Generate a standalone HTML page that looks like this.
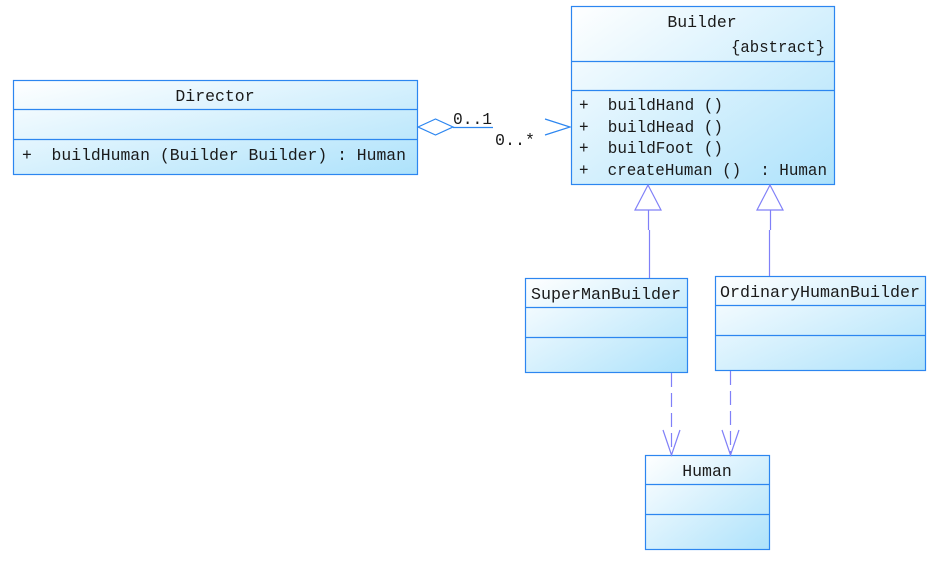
<!DOCTYPE html>
<html><head><meta charset="utf-8"><style>
html,body{margin:0;padding:0;background:#fff;}
svg{display:block}
text{font-family:"Liberation Mono","Noto Sans CJK SC",monospace;font-size:16.5px;fill:#1a1a1a;white-space:pre}
</style></head><body>
<svg width="935" height="564" viewBox="0 0 935 564" xmlns="http://www.w3.org/2000/svg" xml:space="preserve">
<defs>
<linearGradient id="g" x1="0" y1="0" x2="1" y2="1">
<stop offset="0" stop-color="#ffffff"/><stop offset="1" stop-color="#ade2fb"/>
</linearGradient>
</defs>
<g stroke="#2c86f0" stroke-width="1.2">
<rect x="13.5" y="80.5" width="404" height="94" fill="url(#g)"/>
<line x1="13.5" y1="109.5" x2="417.5" y2="109.5"/><line x1="13.5" y1="139.5" x2="417.5" y2="139.5"/>
<rect x="571.5" y="6.5" width="263" height="178" fill="url(#g)"/>
<line x1="571.5" y1="61.5" x2="834.5" y2="61.5"/><line x1="571.5" y1="90.5" x2="834.5" y2="90.5"/>
<rect x="525.5" y="278.5" width="162" height="94" fill="url(#g)"/>
<line x1="525.5" y1="307.5" x2="687.5" y2="307.5"/><line x1="525.5" y1="337.5" x2="687.5" y2="337.5"/>
<rect x="715.5" y="276.5" width="210" height="94" fill="url(#g)"/>
<line x1="715.5" y1="305.5" x2="925.5" y2="305.5"/><line x1="715.5" y1="335.5" x2="925.5" y2="335.5"/>
<rect x="645.5" y="455.5" width="124" height="94" fill="url(#g)"/>
<line x1="645.5" y1="484.5" x2="769.5" y2="484.5"/><line x1="645.5" y1="514.5" x2="769.5" y2="514.5"/>
<polygon points="418,127 435.5,119 453,127 435.5,135" fill="#fff"/>
<line x1="453" y1="127.5" x2="493" y2="127.5"/>
<polyline points="545,119 570,127 545,135" fill="none"/>
</g>
<g stroke="#8080f8" stroke-width="1.2" fill="none">
<polygon points="648,185 635,210 661,210" fill="#fff"/>
<line x1="648.5" y1="210" x2="648.5" y2="230"/><line x1="649.5" y1="230" x2="649.5" y2="278"/>
<polygon points="770,185 757,210 783,210" fill="#fff"/>
<line x1="770.5" y1="210" x2="770.5" y2="230"/><line x1="769.5" y1="230" x2="769.5" y2="276"/>
<line x1="671.5" y1="373" x2="671.5" y2="455" stroke-dasharray="14,6"/>
<polyline points="663,430 671.5,455 680,430"/>
<line x1="730.5" y1="371" x2="730.5" y2="455" stroke-dasharray="14,6"/>
<polyline points="722,430 730.5,455 739,430"/>
</g>
<text x="215" y="101" text-anchor="middle">Director</text>
<text x="22" y="160" textLength="384" lengthAdjust="spacingAndGlyphs">+  buildHuman (Builder Builder) : Human</text>
<text x="702" y="27" text-anchor="middle">Builder</text>
<text x="731" y="52" textLength="94" lengthAdjust="spacingAndGlyphs">{abstract}</text>
<text x="579" y="110" textLength="144" lengthAdjust="spacingAndGlyphs">+  buildHand ()</text>
<text x="579" y="132" textLength="144" lengthAdjust="spacingAndGlyphs">+  buildHead ()</text>
<text x="579" y="153" textLength="144" lengthAdjust="spacingAndGlyphs">+  buildFoot ()</text>
<text x="579" y="175" textLength="248" lengthAdjust="spacingAndGlyphs">+  createHuman ()  : Human</text>
<text x="531" y="299" textLength="150" lengthAdjust="spacingAndGlyphs">SuperManBuilder</text>
<text x="720" y="297" textLength="200" lengthAdjust="spacingAndGlyphs">OrdinaryHumanBuilder</text>
<text x="707" y="476" text-anchor="middle">Human</text>
<text x="453" y="124" textLength="39" lengthAdjust="spacingAndGlyphs">0..1</text>
<text x="495" y="145" textLength="40" lengthAdjust="spacingAndGlyphs">0..*</text>
</svg>
</body></html>
